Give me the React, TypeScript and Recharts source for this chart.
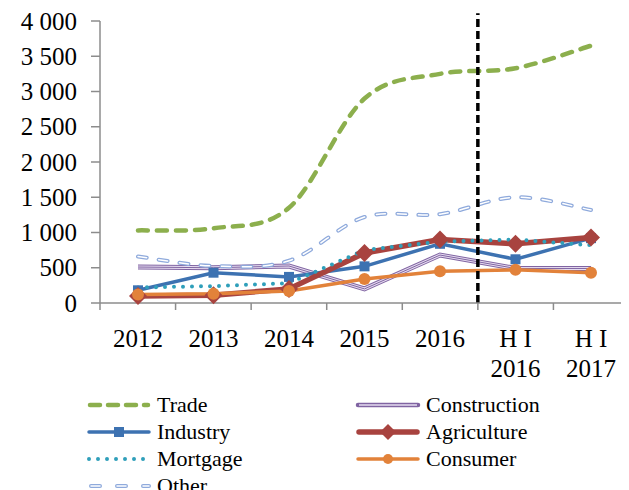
import React from "react";
import {
  LineChart,
  Line,
  XAxis,
  YAxis,
  ReferenceLine,
  Legend,
} from "recharts";

const categories = ["2012", "2013", "2014", "2015", "2016", "H I\n2016", "H I\n2017"];
const trade = [1030, 1060, 1350, 2900, 3250, 3330, 3650];
const construction = [510, 500, 525, 200, 680, 490, 490];
const industry = [180, 430, 370, 520, 840, 620, 920];
const agriculture = [100, 110, 200, 710, 900, 840, 930];
const mortgage = [220, 240, 280, 750, 870, 900, 820];
const consumer = [120, 130, 170, 340, 450, 470, 430];
const other = [660, 525, 600, 1220, 1260, 1500, 1320];
const seriesNames = ["Trade", "Construction", "Industry", "Agriculture", "Mortgage", "Consumer", "Other"];
const yTicks = [0, 500, 1000, 1500, 2000, 2500, 3000, 3500, 4000];
const gridTicks = [0, 1, 2, 3, 4, 5, 6, 7];
const dividerAt = 5;
const dividerTop = 4110;

const data = categories.map((c, i) => ({
  cat: c,
  slot: i + 0.5,
  Trade: trade[i],
  Construction: construction[i],
  Industry: industry[i],
  Agriculture: agriculture[i],
  Mortgage: mortgage[i],
  Consumer: consumer[i],
  Other: other[i],
}));

const C = {
  trade: "#8CAF4D",
  construction: "#8064A2",
  industry: "#3D72B1",
  agriculture: "#A8433F",
  mortgage: "#2F9FBA",
  consumer: "#E2823A",
  other: "#8FAADC",
  axis: "#8C8C8C",
};

const FONT = "'Liberation Serif', 'Times New Roman', serif";

const fmt = (v: number) => String(v).replace(/\B(?=(\d{3})+(?!\d))/g, " ");

// Catmull-Rom style smoothing (similar to spreadsheet "smoothed line")
const smoothCurve: any = (context: any) => {
  let pts: number[][] = [];
  return {
    areaStart() {},
    areaEnd() {},
    lineStart() {
      pts = [];
    },
    point(x: number, y: number) {
      pts.push([+x, +y]);
    },
    lineEnd() {
      const n = pts.length;
      if (!n) return;
      context.moveTo(pts[0][0], pts[0][1]);
      for (let i = 0; i < n - 1; i++) {
        const p0 = pts[i - 1] || pts[i];
        const p1 = pts[i];
        const p2 = pts[i + 1];
        const p3 = pts[i + 2] || p2;
        const t = 6;
        context.bezierCurveTo(
          p1[0] + (p2[0] - p0[0]) / t,
          p1[1] + (p2[1] - p0[1]) / t,
          p2[0] - (p3[0] - p1[0]) / t,
          p2[1] - (p3[1] - p1[1]) / t,
          p2[0],
          p2[1]
        );
      }
    },
  };
};

const CatTick = (props: any) => {
  const { x, y, payload } = props;
  const lines = String(payload.value).split("\n");
  return (
    <text x={x} y={y} textAnchor="middle" fontFamily={FONT} fontSize={25} fill="#000">
      {lines.map((l, i) => (
        <tspan key={i} x={x} dy={i === 0 ? 43 : 30}>
          {l}
        </tspan>
      ))}
    </text>
  );
};

const YTick = (props: any) => {
  const { x, y, payload } = props;
  return (
    <text x={x} y={y} dy={8.5} textAnchor="end" fontFamily={FONT} fontSize={25} fill="#000">
      {fmt(payload.value)}
    </text>
  );
};

const SquareDot = (p: any) => (
  <rect key={`sq-${p.index}`} x={p.cx - 5} y={p.cy - 5} width={10} height={10} fill={C.industry} />
);
const DiamondDot = (p: any) => (
  <path
    key={`dm-${p.index}`}
    d={`M${p.cx} ${p.cy - 9}L${p.cx + 9} ${p.cy}L${p.cx} ${p.cy + 9}L${p.cx - 9} ${p.cy}Z`}
    fill={C.agriculture}
  />
);
const CircleDot = (p: any) => (
  <circle key={`cc-${p.index}`} cx={p.cx} cy={p.cy} r={6} fill={C.consumer} />
);

const LegendIcon = ({ name }: { name: string }) => {
  const w = 64;
  const m = 7;
  let inner: React.ReactNode = null;
  switch (name) {
    case "Trade":
      inner = (
        <line x1={3} y1={m} x2={w - 3} y2={m} stroke={C.trade} strokeWidth={4.5} strokeDasharray="10 8" strokeLinecap="round" />
      );
      break;
    case "Construction":
      inner = (
        <g>
          <line x1={2} y1={m} x2={w - 2} y2={m} stroke={C.construction} strokeWidth={4.5} strokeLinecap="round" />
          <line x1={3} y1={m} x2={w - 3} y2={m} stroke="#E6DDF0" strokeWidth={1.5} />
        </g>
      );
      break;
    case "Industry":
      inner = (
        <g>
          <line x1={2} y1={m} x2={w - 2} y2={m} stroke={C.industry} strokeWidth={3.5} strokeLinecap="round" />
          <rect x={w / 2 - 5} y={m - 5} width={10} height={10} fill={C.industry} />
        </g>
      );
      break;
    case "Agriculture":
      inner = (
        <g>
          <line x1={3} y1={m} x2={w - 3} y2={m} stroke={C.agriculture} strokeWidth={5.5} strokeLinecap="round" />
          <path d={`M${w / 2} ${m - 8}L${w / 2 + 8} ${m}L${w / 2} ${m + 8}L${w / 2 - 8} ${m}Z`} fill={C.agriculture} />
        </g>
      );
      break;
    case "Mortgage":
      inner = (
        <line x1={2} y1={m} x2={w - 2} y2={m} stroke={C.mortgage} strokeWidth={4} strokeDasharray="0 9" strokeLinecap="round" />
      );
      break;
    case "Consumer":
      inner = (
        <g>
          <line x1={2} y1={m} x2={w - 2} y2={m} stroke={C.consumer} strokeWidth={3.5} strokeLinecap="round" />
          <circle cx={w / 2} cy={m} r={5} fill={C.consumer} />
        </g>
      );
      break;
    case "Other":
      inner = (
        <g>
          <line x1={4} y1={m} x2={w - 2} y2={m} stroke={C.other} strokeWidth={4} strokeDasharray="9 17" strokeLinecap="round" />
          <line x1={4} y1={m} x2={w - 2} y2={m} stroke="#fff" strokeWidth={1.5} strokeDasharray="9 17" strokeLinecap="round" />
        </g>
      );
      break;
  }
  return (
    <svg width={w} height={14} style={{ display: "block", overflow: "visible" }}>
      {inner}
    </svg>
  );
};

const LegendContent = (props: any) => {
  const items = (props.payload || [])
    .filter((p: any) => p.type !== "none" && seriesNames.includes(p.value))
    .sort((a: any, b: any) => seriesNames.indexOf(a.value) - seriesNames.indexOf(b.value));
  return (
    <div
      style={{
        display: "grid",
        gridTemplateColumns: "269px 260px",
        fontFamily: FONT,
        fontSize: 22,
        color: "#000",
      }}
    >
      {items.map((it: any) => (
        <div key={it.value} style={{ display: "flex", alignItems: "center", height: 27 }}>
          <LegendIcon name={it.value} />
          <span style={{ marginLeft: 6, lineHeight: "22px" }}>{it.value}</span>
        </div>
      ))}
    </div>
  );
};

export default function App() {
  return (
    <div>
      <style>{`html,body{overflow:hidden}`}</style>
      <LineChart
        width={621}
        height={482}
        data={data}
        margin={{ top: 13, right: 0, left: 0, bottom: 126 }}
        style={{ fontFamily: FONT }}
      >
        <XAxis
          xAxisId="b"
          dataKey="cat"
          height={60}
          padding={{ left: 38, right: 38 }}
          axisLine={false}
          tickLine={false}
          tickSize={0}
          tickMargin={0}
          interval={0}
          tick={<CatTick />}
        />
        <XAxis
          xAxisId="a"
          dataKey="slot"
          type="number"
          domain={[0, 7]}
          ticks={gridTicks}
          allowDataOverflow
          height={1}
          tickSize={7}
          tickFormatter={() => ""}
          stroke={C.axis}
          strokeWidth={1.5}
        />
        <YAxis
          domain={[0, 4000]}
          ticks={yTicks}
          width={92}
          tickSize={9}
          tickMargin={14}
          stroke={C.axis}
          strokeWidth={1.5}
          tick={<YTick />}
        />
        <Line
          xAxisId="b"
          dataKey="Trade"
          type={smoothCurve}
          stroke={C.trade}
          strokeWidth={4.5}
          strokeDasharray="10 9"
          strokeLinecap="round"
          dot={false}
          isAnimationActive={false}
        />
        <Line
          xAxisId="b"
          dataKey="Construction"
          stroke={C.construction}
          strokeWidth={5}
          dot={false}
          isAnimationActive={false}
        />
        <Line
          xAxisId="b"
          dataKey="Construction"
          name="construction-gap"
          legendType="none"
          stroke="#E6DDF0"
          strokeWidth={3}
          dot={false}
          isAnimationActive={false}
        />
        <Line
          xAxisId="b"
          dataKey="Construction"
          name="construction-mid"
          legendType="none"
          stroke={C.construction}
          strokeWidth={1}
          dot={false}
          isAnimationActive={false}
        />
        <Line
          xAxisId="b"
          dataKey="Industry"
          stroke={C.industry}
          strokeWidth={3.5}
          dot={SquareDot}
          isAnimationActive={false}
        />
        <Line
          xAxisId="b"
          dataKey="Agriculture"
          stroke={C.agriculture}
          strokeWidth={5.5}
          dot={DiamondDot}
          isAnimationActive={false}
        />
        <Line
          xAxisId="b"
          dataKey="Mortgage"
          stroke={C.mortgage}
          strokeWidth={4}
          strokeDasharray="0 9"
          strokeLinecap="round"
          dot={false}
          isAnimationActive={false}
        />
        <Line
          xAxisId="b"
          dataKey="Consumer"
          stroke={C.consumer}
          strokeWidth={3.5}
          dot={CircleDot}
          isAnimationActive={false}
        />
        <Line
          xAxisId="b"
          dataKey="Other"
          type={smoothCurve}
          stroke={C.other}
          strokeWidth={4}
          strokeDasharray="9 12"
          strokeLinecap="round"
          dot={false}
          isAnimationActive={false}
        />
        <Line
          xAxisId="b"
          dataKey="Other"
          name="other-inner"
          legendType="none"
          type={smoothCurve}
          stroke="#fff"
          strokeWidth={1.5}
          strokeDasharray="9 12"
          strokeLinecap="round"
          dot={false}
          isAnimationActive={false}
        />
        <ReferenceLine
          xAxisId="a"
          segment={[
            { x: dividerAt, y: 0 },
            { x: dividerAt, y: dividerTop },
          ]}
          ifOverflow="visible"
          stroke="#000"
          strokeWidth={3.5}
          strokeDasharray="8 4"
        />
        <Legend
          layout="horizontal"
          verticalAlign="middle"
          align="center"
          content={<LegendContent />}
          wrapperStyle={{ top: 383, left: 79, width: 540 }}
        />
      </LineChart>
    </div>
  );
}
